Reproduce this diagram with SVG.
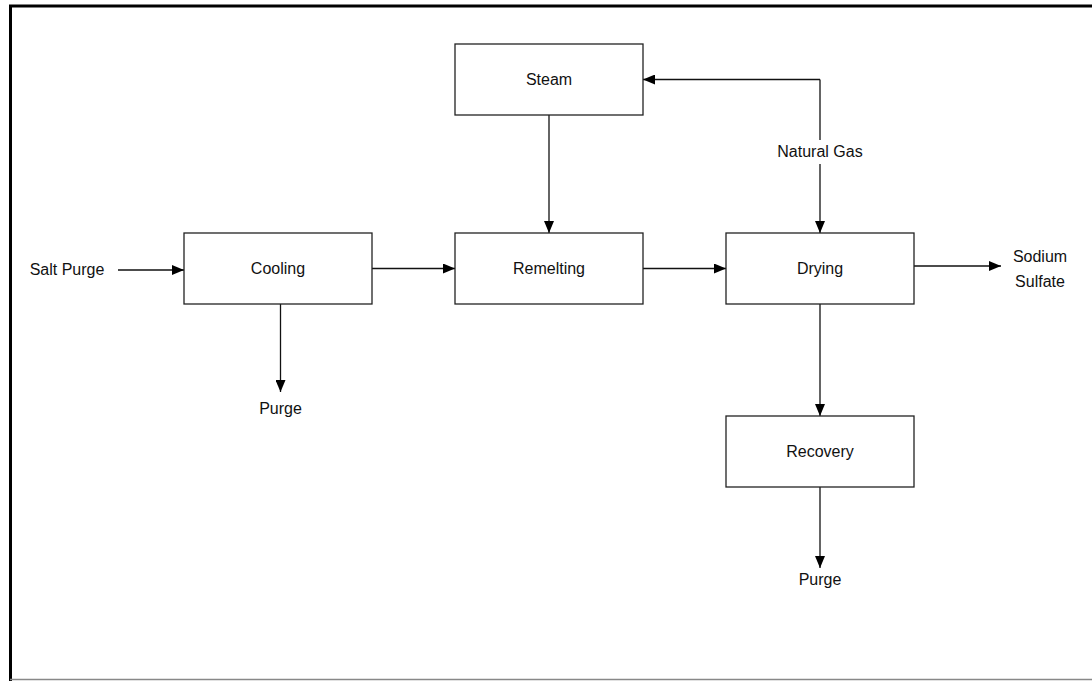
<svg xmlns="http://www.w3.org/2000/svg" width="1092" height="681" viewBox="0 0 1092 681">
<style>
.box{fill:#fff;stroke:#222;stroke-width:1.3}
.lbl{font-family:"Liberation Sans",Arial,sans-serif;font-size:16px;fill:#111;text-anchor:middle}
.ln{fill:none;stroke:#111;stroke-width:1.3;marker-end:url(#ah)}
</style>
<defs>
<marker id="ah" markerUnits="userSpaceOnUse" markerWidth="12" markerHeight="10" refX="12" refY="5" orient="auto">
<path d="M0,0 L12,5 L0,10 Z" fill="#000"/>
</marker>
</defs>
<rect width="1092" height="681" fill="#fff"/>
<g id="frame">
<line x1="9" y1="6" x2="1092" y2="6" stroke="#000" stroke-width="3"/>
<line x1="10.5" y1="5" x2="10.5" y2="681" stroke="#000" stroke-width="3"/>
<line x1="10" y1="679.5" x2="1092" y2="679.5" stroke="#888" stroke-width="1.5"/>
</g>
<g id="connectors">
<line class="ln" x1="118" y1="270" x2="184" y2="270"/>
<line class="ln" x1="372" y1="268.5" x2="455" y2="268.5"/>
<line class="ln" x1="643" y1="268.5" x2="726" y2="268.5"/>
<line class="ln" x1="914" y1="266" x2="1001" y2="266"/>
<line class="ln" x1="549" y1="115" x2="549" y2="233"/>
<line class="ln" x1="820" y1="140" x2="820" y2="79.5" style="marker-end:none"/>
<polyline class="ln" points="820,79.5 643,79.5"/>
<line class="ln" x1="820" y1="164" x2="820" y2="233"/>
<line class="ln" x1="280.5" y1="304" x2="280.5" y2="392"/>
<line class="ln" x1="820" y1="304" x2="820" y2="416"/>
<line class="ln" x1="820" y1="487" x2="820" y2="568"/>
</g>
<g id="steam"><rect class="box" x="455" y="44" width="188" height="71"/><text class="lbl" x="549" y="85">Steam</text></g>
<g id="cooling"><rect class="box" x="184" y="233" width="188" height="71"/><text class="lbl" x="278" y="274">Cooling</text></g>
<g id="remelting"><rect class="box" x="455" y="233" width="188" height="71"/><text class="lbl" x="549" y="274">Remelting</text></g>
<g id="drying"><rect class="box" x="726" y="233" width="188" height="71"/><text class="lbl" x="820" y="274">Drying</text></g>
<g id="recovery"><rect class="box" x="726" y="416" width="188" height="71"/><text class="lbl" x="820" y="457">Recovery</text></g>
<g id="labels">
<text class="lbl" x="67" y="275">Salt Purge</text>
<text class="lbl" x="820" y="157">Natural Gas</text>
<text class="lbl" x="1040" y="262">Sodium</text>
<text class="lbl" x="1040" y="287">Sulfate</text>
<text class="lbl" x="280.5" y="414">Purge</text>
<text class="lbl" x="820" y="585">Purge</text>
</g>
</svg>
